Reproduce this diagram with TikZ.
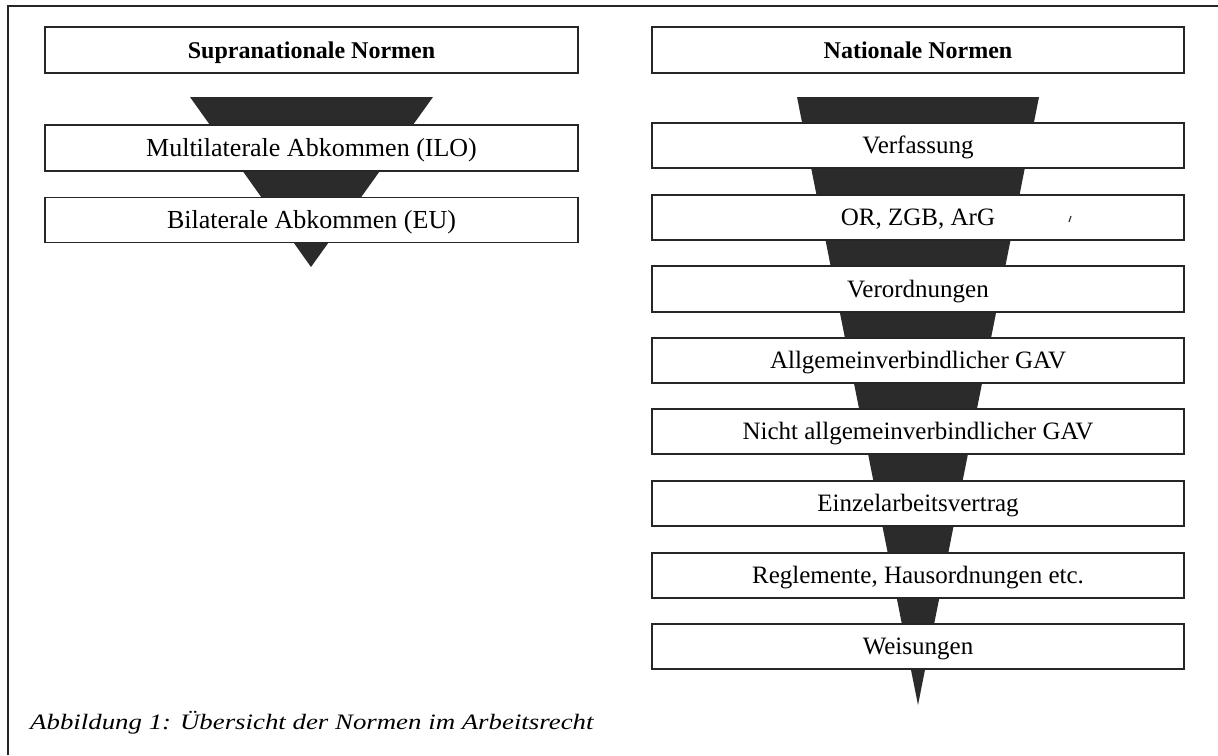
\documentclass[tikz,border=0pt]{standalone}
\usepackage{fontspec}
\setmainfont{Liberation Serif}
\usepackage{graphicx}
\begin{document}
\begin{tikzpicture}[x=1pt,y=-1pt,
  box/.style={draw=black!85, line width=1.6pt, fill=white, minimum width=533pt,
    minimum height=46pt, inner sep=0pt, text height=17pt, text depth=0pt,
    font=\fontsize{26}{28}\selectfont},
  rbox/.style={box, minimum width=532pt, minimum height=45.5pt, text height=16.5pt,
    font=\fontsize{25}{28}\selectfont},
  headbox/.style={box, text height=16.3pt, font=\fontsize{24}{28}\selectfont\bfseries},
  funnel/.style={fill=black!83, draw=none},
  frameline/.style={draw=black!85, line width=2pt}]
\useasboundingbox (0,0) rectangle (1218,755);
% frame
\draw[frameline] (8,755) -- (8,6) -- (1218,6);
% funnels
\fill[funnel] (190,97) -- (433,97) -- (311,267) -- cycle;
\fill[funnel] (797,97) -- (1039,97) -- (918,705) -- cycle;
% left column
\node[headbox] (sup) at (311.5,50) {Supranationale Normen};
\node[box] (ilo) at (311.5,148) {Multilaterale Abkommen (ILO)};
\node[box, minimum height=45pt] (eu) at (311.5,220) {Bilaterale Abkommen (EU)};
% right column
\node[headbox, minimum width=532pt] (nat) at (918,50) {Nationale Normen};
\node[rbox] (r1) at (918,145.5) {Verfassung};
\node[rbox] (r2) at (918,217.5) {OR, ZGB, ArG};
\node[rbox] (r3) at (918,289) {Verordnungen};
\node[rbox] (r4) at (918,360.5) {Allgemeinverbindlicher GAV};
\node[rbox] (r5) at (918,431.5) {Nicht allgemeinverbindlicher GAV};
\node[rbox] (r6) at (918,503.5) {Einzelarbeitsvertrag};
\node[rbox] (r7) at (918,575.5) {Reglemente, Hausordnungen etc.};
\node[rbox] (r8) at (918,646.5) {Weisungen};
% small scan mark
\draw[line width=1.2pt, black!80] (1071,216) -- (1069,222);
% caption
\node[anchor=base west, inner sep=0pt] (cap) at (30,729)
  {\scalebox{1.22}[1]{\fontsize{22}{26}\selectfont\itshape Abbildung 1: Übersicht der Normen im Arbeitsrecht}};
\end{tikzpicture}
\end{document}
